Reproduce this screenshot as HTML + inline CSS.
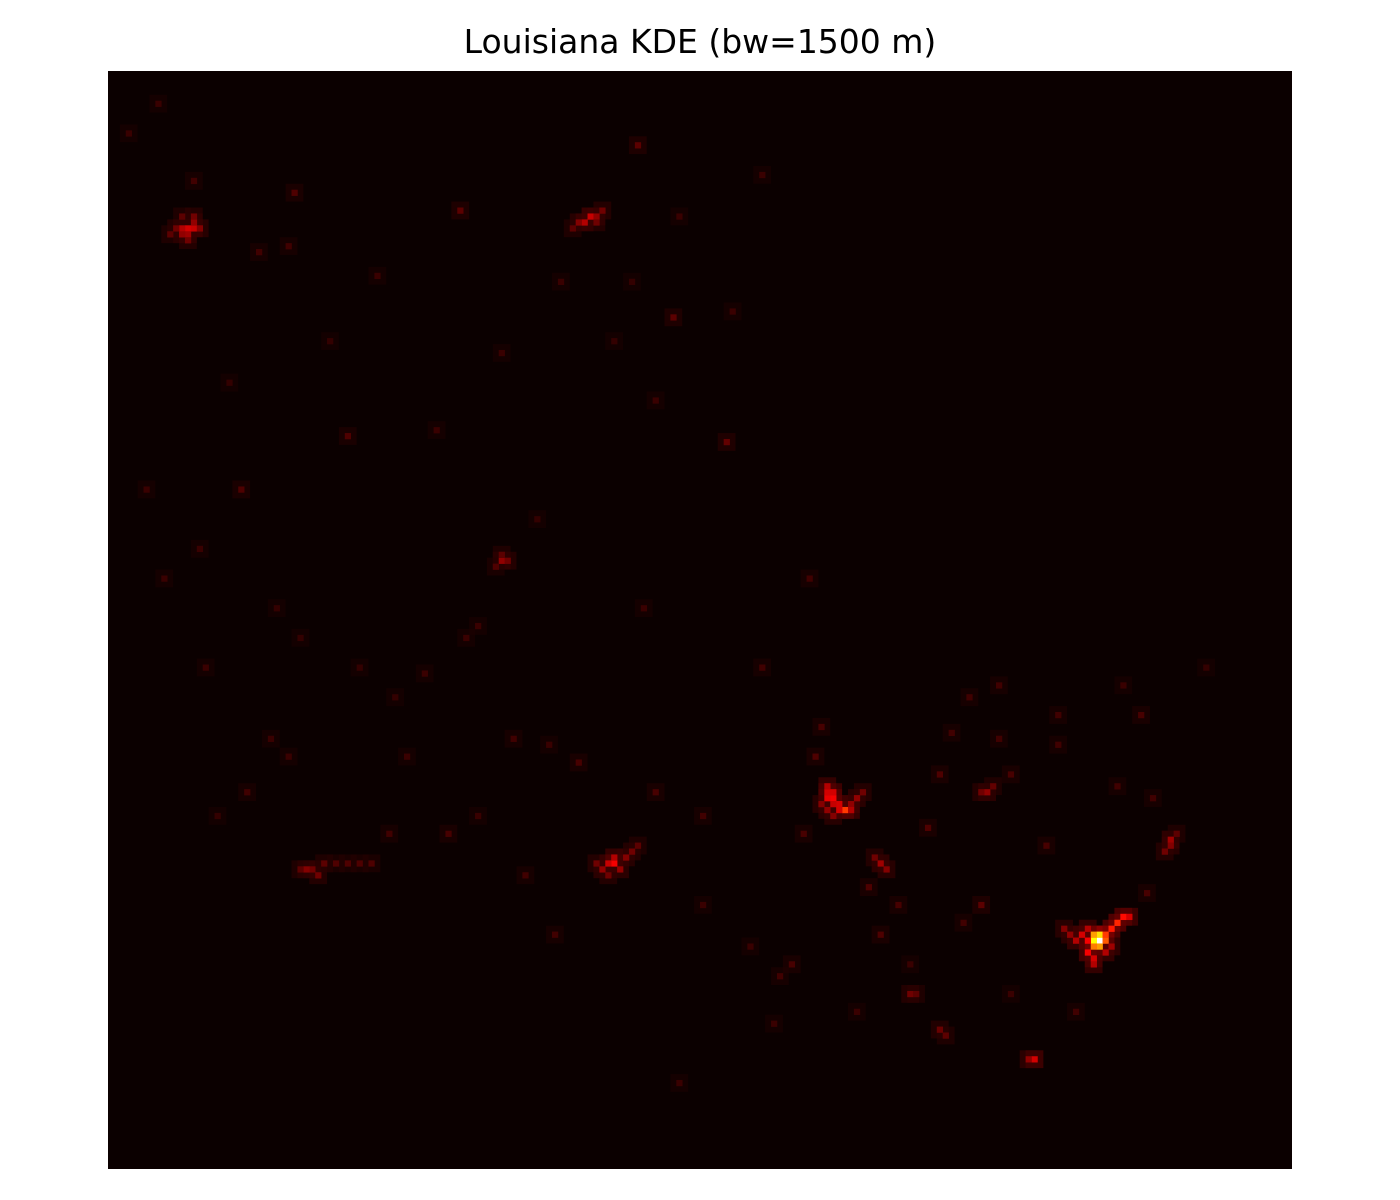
<!DOCTYPE html>
<html><head><meta charset="utf-8"><style>
body{margin:0;background:#fff;width:1400px;height:1200px;overflow:hidden}
#title{position:absolute;left:0;width:1400px;top:22px;text-align:center;font:33px "DejaVu Sans","Liberation Sans",sans-serif;color:#000}
svg{position:absolute;left:0;top:0}
</style></head><body>
<div id="title">Louisiana KDE (bw=1500 m)</div>
<svg id="chart" width="1400" height="1200"></svg>
<script>
const nCols = 200, nRows = 185;
const cellCols = [167,166,167,166,168,167,166,168,169,170,171,172,165,164,165,166,166,163,162,161,168,169,165,
124,123,122,121,121,122,121,122,123,125,125,126,120,121,122,127,
85,84,85,86,83,87,88,84,89,82,
13,14,12,13,14,12,11,10,15,13,14,12,
80,81,82,79,83,82,78,
66,67,66,65,
34,33,35,36,32,38,40,42,44,
156,155,179,179,178,180,148,147,149,130,131,129,135,136,140,141,
95,104,40,22,147,89,59,31,
3,8,25,37,55,72,90,110,120,60,48,30,18,70,100,115,130,140,150,158,170,175,185,160,145,135,112,96,75,62,50,42,28,15,6,88,92,105,118,152,
119,117,128,133,144,152,160,174,176,138,142,150,171,163,126,113,108,100,92,79,74,68,57,47,23,27,16,9,14,30,45,66,76,85,96,110,62,53,32,20];
const cellRows = [146,146,145,145,146,147,147,145,144,143,142,142,146,145,148,149,150,146,145,144,148,147,144,
124,123,122,122,121,121,120,123,124,123,124,122,123,124,125,121,
133,133,132,134,134,132,131,135,130,133,
26,26,26,27,25,27,26,27,26,28,24,24,
25,24,24,25,23,25,26,
82,82,81,83,
134,134,135,133,134,133,133,133,133,
166,166,129,130,131,128,121,121,120,133,134,132,155,155,161,162,
41,62,61,70,140,12,23,20,
10,5,30,45,60,75,90,100,110,95,105,115,125,135,140,150,145,118,112,130,120,138,100,108,105,150,160,170,145,125,115,100,90,80,70,35,55,40,85,155,
115,128,137,140,143,118,113,108,122,127,111,103,103,158,158,152,147,125,121,116,113,112,128,128,121,112,100,85,18,29,34,47,35,45,24,17,93,101,95,52];
const cellVals = [1.0,0.75,0.7,0.6,0.5,0.6,0.55,0.45,0.4,0.42,0.38,0.3,0.35,0.3,0.35,0.3,0.25,0.25,0.2,0.18,0.25,0.22,0.25,
0.45,0.3,0.35,0.33,0.3,0.3,0.25,0.28,0.3,0.2,0.25,0.2,0.18,0.2,0.18,0.15,
0.35,0.28,0.25,0.2,0.2,0.18,0.15,0.15,0.12,0.15,
0.3,0.28,0.25,0.22,0.2,0.2,0.15,0.12,0.18,0.15,0.15,0.12,
0.25,0.28,0.2,0.18,0.15,0.15,0.12,
0.2,0.15,0.12,0.1,
0.15,0.18,0.15,0.12,0.12,0.1,0.1,0.1,0.1,
0.3,0.2,0.22,0.18,0.15,0.12,0.2,0.15,0.13,0.22,0.18,0.15,0.15,0.12,0.14,0.12,
0.12,0.13,0.1,0.1,0.12,0.12,0.12,0.1,
0.07,0.07,0.08,0.06,0.07,0.06,0.07,0.08,0.09,0.07,0.06,0.07,0.06,0.08,0.07,0.09,0.1,0.1,0.08,0.09,0.08,0.09,0.06,0.08,0.08,0.07,0.07,0.07,0.08,0.07,0.07,0.06,0.06,0.07,0.07,0.06,0.07,0.07,0.08,0.07,
0.1,0.09,0.1,0.09,0.08,0.09,0.08,0.09,0.08,0.1,0.08,0.08,0.07,0.08,0.07,0.08,0.07,0.08,0.09,0.09,0.07,0.08,0.09,0.08,0.08,0.07,0.07,0.07,0.08,0.08,0.07,0.07,0.07,0.06,0.07,0.07,0.07,0.07,0.06,0.06];
const X0=108, Y0=71, W=1184, H=1098;
const cw=W/nCols, ch=H/nRows;
const xScale = c => X0 + c*cw;
const yScale = r => Y0 + r*ch;
function hot(v){
  const r=Math.min(1,0.0416+v/0.365*(1-0.0416));
  const g=Math.max(0,Math.min(1,(v-0.365)/(0.746-0.365)));
  const b=Math.max(0,Math.min(1,(v-0.746)/(1-0.746)));
  return `rgb(${Math.round(r*255)},${Math.round(g*255)},${Math.round(b*255)})`;
}
const svg=document.getElementById('chart');
const NS='http://www.w3.org/2000/svg';
const bg=document.createElementNS(NS,'rect');


bg.setAttribute('x',X0);bg.setAttribute('y',Y0);bg.setAttribute('width',W);bg.setAttribute('height',H);
bg.setAttribute('fill',hot(0));
svg.appendChild(bg);
for(let i=0;i<cellVals.length;i++){
  const h=document.createElementNS(NS,'rect');
  
  
  h.setAttribute('x',xScale(cellCols[i]-1).toFixed(2));
  h.setAttribute('y',yScale(cellRows[i]-1).toFixed(2));
  h.setAttribute('width',(cw*3).toFixed(2));
  h.setAttribute('height',(ch*3).toFixed(2));
  h.setAttribute('fill',hot(cellVals[i]*0.4));
  h.setAttribute('opacity','0.6');
  svg.appendChild(h);
}
for(let i=0;i<cellVals.length;i++){
  const r=document.createElementNS(NS,'rect');
  
  
  r.setAttribute('x',xScale(cellCols[i]).toFixed(2));
  r.setAttribute('y',yScale(cellRows[i]).toFixed(2));
  r.setAttribute('width',(cw+0.3).toFixed(2));
  r.setAttribute('height',(ch+0.3).toFixed(2));
  r.setAttribute('fill',hot(cellVals[i]));
  svg.appendChild(r);
}
</script>
</body></html>
